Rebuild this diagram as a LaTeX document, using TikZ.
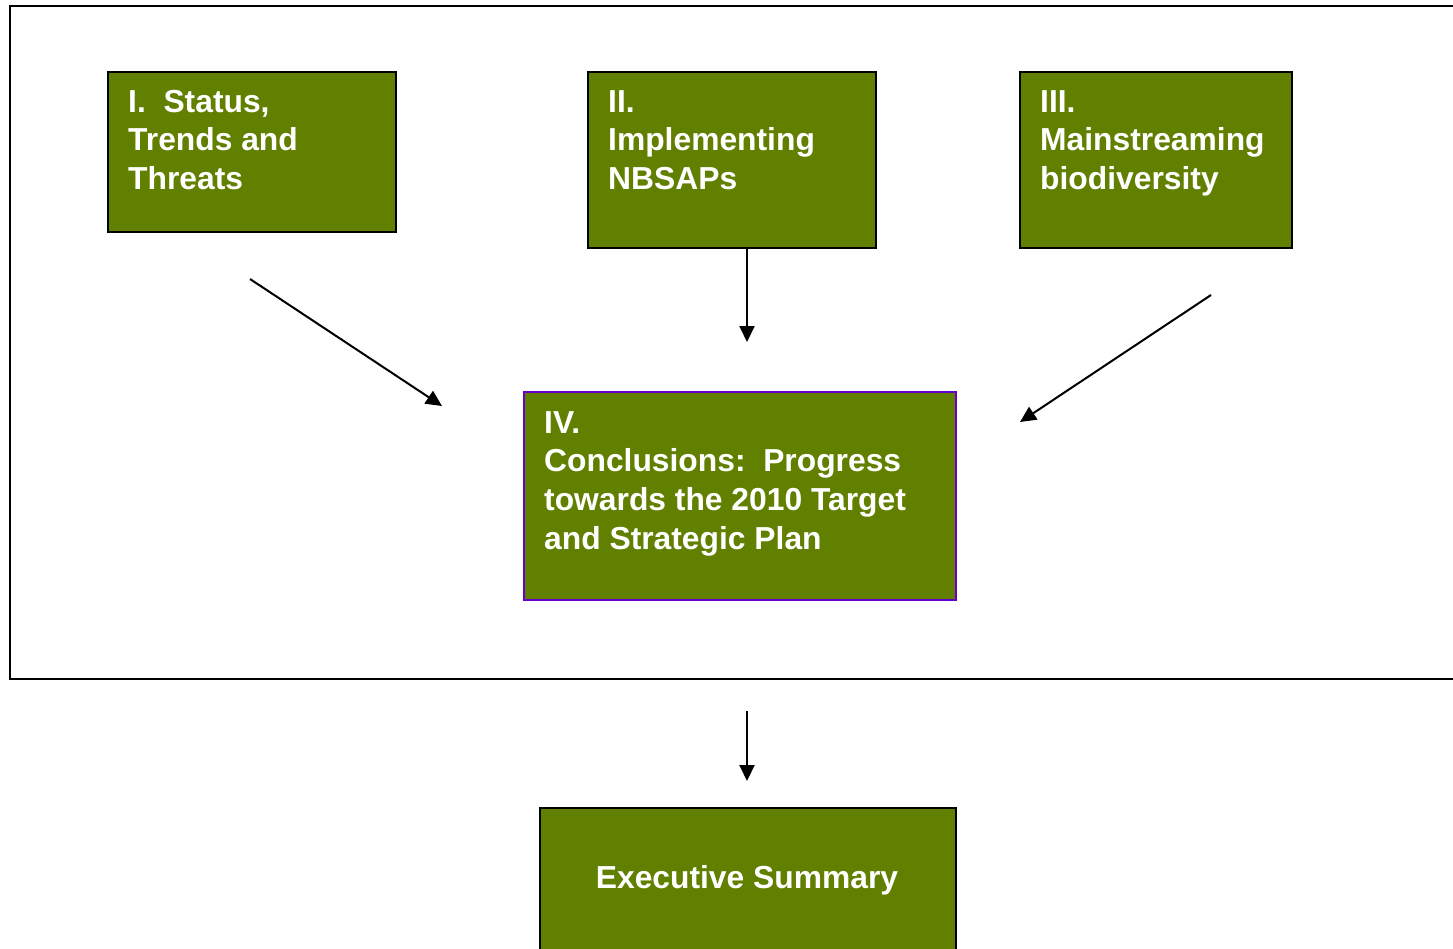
\documentclass[tikz,border=0pt]{standalone}
\usepackage{fontspec}
\setmainfont{Liberation Sans}
\usetikzlibrary{arrows.meta}
\definecolor{boxgreen}{RGB}{98,128,0}
\definecolor{boxpurple}{RGB}{102,0,204}
\newcommand{\boxlines}[1]{\begin{tabular}[t]{@{}l@{}}#1\end{tabular}}
\renewcommand{\arraystretch}{1}
\tikzset{
  gbox/.style={draw=black, line width=2pt, fill=boxgreen, rectangle, inner sep=0pt},
  btext/.style={anchor=base west, inner sep=0pt, text=white,
    font=\fontsize{31.8}{38.7}\selectfont\bfseries},
  arr/.style={line width=2pt, -{Triangle[length=16pt,width=15pt]}},
}
\begin{document}
\begin{tikzpicture}[x=1pt,y=-1pt]
\useasboundingbox (0,0) rectangle (1453,948);
% outer frame
\draw[line width=2.2pt] (1470,6) -- (10,6) -- (10,679) -- (1470,679);
% boxes
\node[gbox, minimum width=288pt, minimum height=160pt, anchor=north west] (b1) at (106.5,70.5) {};
\node[gbox, minimum width=288pt, minimum height=176pt, anchor=north west] (b2) at (586.5,70.5) {};
\node[gbox, minimum width=272pt, minimum height=176pt, anchor=north west] (b3) at (1018.5,70.5) {};
\node[gbox, draw=boxpurple, minimum width=432pt, minimum height=208pt, anchor=north west] (b4) at (522.5,390.5) {};
\node[gbox, minimum width=416pt, minimum height=180pt, anchor=north west] (b5) at (538.5,806.5) {};
% texts
\node[btext] (t1) at (128,112) {\boxlines{I.\ \ Status,\\Trends and\\Threats}};
\node[btext] (t2) at (608,112) {\boxlines{II.\\Implementing\\NBSAPs}};
\node[btext] (t3) at (1040,112) {\boxlines{III.\\Mainstreaming\\biodiversity}};
\node[btext] (t4) at (544,433) {\boxlines{IV.\\Conclusions:\ \ Progress\\towards the 2010 Target\\and Strategic Plan}};
\node[btext, anchor=base] (t5) at (747,888) {Executive Summary};
% arrows
\coordinate (a1s) at (250,279); \coordinate (a1e) at (442,406);
\coordinate (a2s) at (747,247); \coordinate (a2e) at (747,342);
\coordinate (a3s) at (1211,295); \coordinate (a3e) at (1020,422);
\coordinate (a4s) at (747,711); \coordinate (a4e) at (747,781);
\draw[arr] (a1s) -- (a1e);
\draw[arr] (a2s) -- (a2e);
\draw[arr] (a3s) -- (a3e);
\draw[arr] (a4s) -- (a4e);
\end{tikzpicture}
\end{document}
